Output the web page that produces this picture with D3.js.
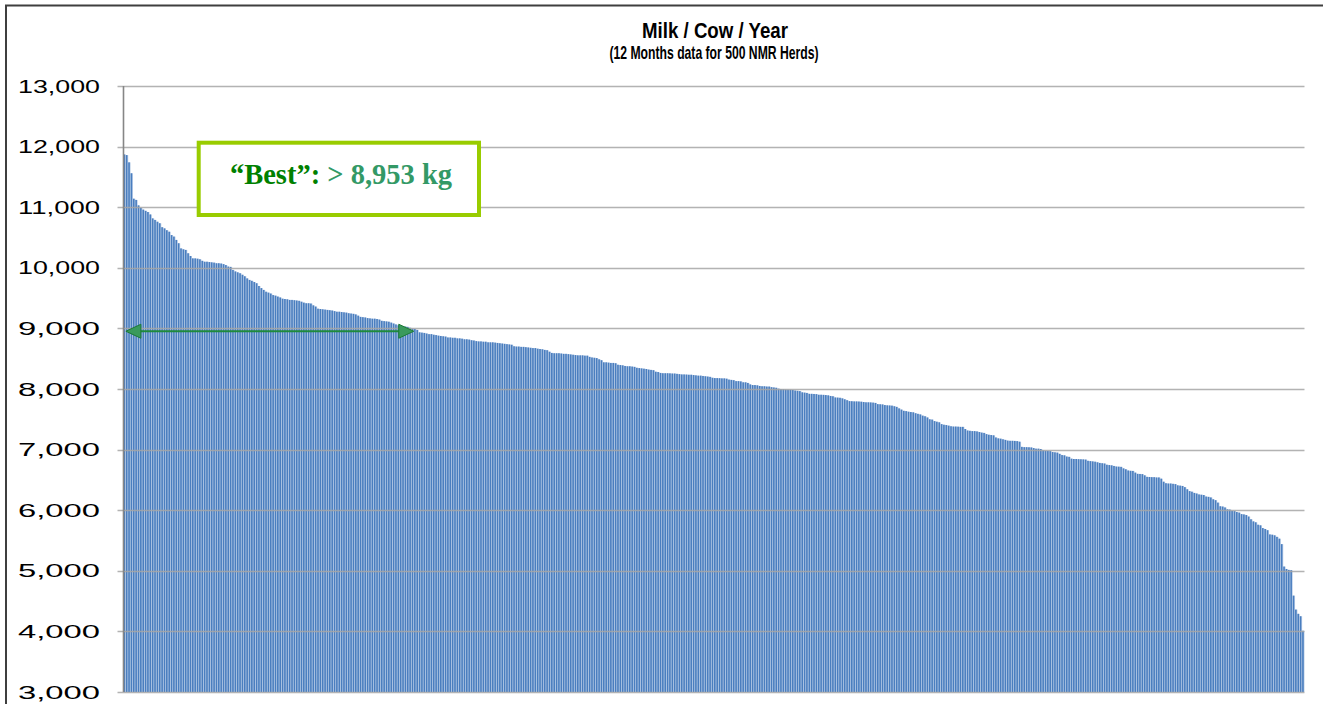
<!DOCTYPE html>
<html>
<head>
<meta charset="utf-8">
<script src="https://cdn.jsdelivr.net/npm/d3@7"></script>
<style>
  body { margin: 0; background: #fff; }
  svg { display: block; }
</style>
</head>
<body>
<div id="chart"></div>
<script>
// herds sorted by milk yield per cow (kg / year)
const milkPerCow = [
  11870,11860,11740,11560,11140,11120,11030,10990,10960,10940,
  10920,10880,10815,10790,10760,10735,10670,10650,10620,10595,
  10540,10515,10460,10405,10320,10305,10295,10240,10195,10155,
  10155,10150,10140,10115,10100,10100,10095,10090,10085,10075,
  10075,10070,10060,10045,10020,10015,9965,9940,9925,9910,
  9885,9860,9825,9800,9785,9765,9745,9700,9665,9635,
  9605,9590,9575,9550,9540,9525,9510,9490,9485,9480,
  9470,9470,9465,9460,9455,9440,9425,9415,9415,9410,
  9380,9360,9325,9320,9315,9310,9305,9300,9295,9285,
  9275,9275,9270,9265,9260,9250,9245,9240,9230,9210,
  9190,9185,9180,9170,9165,9160,9160,9155,9145,9125,
  9120,9115,9110,9095,9080,9065,9050,9040,9035,9030,
  9025,9010,8995,8990,8975,8935,8930,8925,8915,8905,
  8905,8895,8890,8880,8875,8870,8865,8850,8850,8845,
  8845,8835,8835,8830,8820,8820,8815,8805,8800,8790,
  8785,8785,8780,8780,8770,8770,8770,8765,8760,8755,
  8750,8745,8740,8735,8730,8705,8700,8700,8695,8695,
  8690,8685,8680,8675,8675,8665,8660,8655,8645,8640,
  8615,8595,8590,8590,8590,8585,8580,8580,8575,8570,
  8565,8560,8555,8555,8555,8550,8550,8530,8520,8515,
  8510,8490,8475,8440,8440,8435,8430,8430,8425,8400,
  8395,8390,8380,8375,8375,8370,8365,8350,8345,8340,
  8335,8330,8320,8315,8310,8285,8280,8265,8260,8260,
  8260,8258,8255,8255,8250,8245,8240,8240,8238,8235,
  8235,8230,8225,8220,8220,8215,8210,8205,8200,8185,
  8180,8180,8178,8175,8175,8170,8155,8150,8145,8130,
  8130,8125,8110,8110,8100,8075,8065,8065,8060,8050,
  8045,8045,8040,8040,8030,8025,8020,8005,8000,7998,
  7992,7990,7988,7985,7975,7970,7965,7945,7940,7935,
  7920,7920,7918,7915,7905,7905,7903,7900,7895,7885,
  7880,7860,7858,7855,7845,7830,7815,7800,7798,7795,
  7795,7793,7790,7785,7780,7780,7778,7775,7770,7750,
  7748,7745,7735,7730,7728,7725,7715,7705,7680,7660,
  7640,7635,7625,7620,7615,7600,7590,7580,7560,7550,
  7530,7500,7495,7470,7460,7450,7420,7410,7405,7395,
  7385,7380,7380,7378,7375,7375,7340,7315,7310,7305,
  7305,7300,7290,7280,7275,7255,7245,7240,7235,7200,
  7185,7180,7170,7160,7148,7145,7145,7143,7140,7130,
  7045,7040,7040,7038,7035,7025,7015,7015,7010,6990,
  6980,6978,6975,6960,6955,6950,6930,6910,6905,6885,
  6880,6850,6845,6845,6842,6840,6838,6835,6815,6810,
  6805,6800,6790,6780,6775,6770,6750,6745,6740,6730,
  6720,6718,6715,6690,6675,6655,6650,6648,6620,6600,
  6598,6595,6575,6550,6548,6545,6545,6540,6540,6520,
  6470,6445,6440,6440,6435,6430,6410,6405,6400,6380,
  6345,6315,6305,6285,6275,6260,6255,6250,6225,6220,
  6210,6180,6165,6125,6065,6060,6045,6015,6010,5990,
  5985,5970,5960,5935,5930,5920,5895,5850,5815,5800,
  5760,5750,5705,5690,5670,5600,5595,5585,5560,5530,
  5440,5070,5030,5015,5010,4590,4360,4290,4250,4010
];

const yTicks = [3000, 4000, 5000, 6000, 7000, 8000, 9000, 10000, 11000, 12000, 13000];
const bestThreshold = 8953;
const titleLines = ["Milk / Cow / Year", "(12 Months data for 500 NMR Herds)"];

let width = 1323,
  height = 704,
  margins = {left: 123.5, right: 18.5, top: 86, bottom: 12};

let svg = d3.select("#chart").append("svg")
  .attr("width", width)
  .attr("height", height);

let x = d3.scaleBand()
  .domain(d3.range(milkPerCow.length))
  .range([margins.left, width - margins.right])
  .padding(0);

let y = d3.scaleLinear()
  .domain([d3.min(yTicks), d3.max(yTicks)])
  .range([height - margins.bottom, margins.top]);

// outer frame (left + top edges visible)
svg.append("path")
  .attr("d", "M6,704V5.5H1323")
  .attr("fill", "none")
  .attr("stroke", "#3f3f3f")
  .attr("stroke-width", 2);

// titles
svg.append("text")
  .attr("x", 715).attr("y", 38)
  .attr("text-anchor", "middle")
  .attr("font-family", "Liberation Sans, Arial, sans-serif")
  .attr("font-weight", "bold")
  .attr("font-size", 22)
  .attr("textLength", 146)
  .attr("lengthAdjust", "spacingAndGlyphs")
  .text(titleLines[0]);

svg.append("text")
  .attr("x", 714).attr("y", 59)
  .attr("text-anchor", "middle")
  .attr("font-family", "Liberation Sans, Arial, sans-serif")
  .attr("font-weight", "bold")
  .attr("font-size", 18.5)
  .attr("textLength", 209)
  .attr("lengthAdjust", "spacingAndGlyphs")
  .text(titleLines[1]);

// bars: light edge + dark body
let bars = svg.append("g").attr("class", "bars");

bars.selectAll("rect.edge")
  .data(milkPerCow)
  .enter().append("rect")
  .attr("class", "edge")
  .attr("x", function(d, i) { return x(i); })
  .attr("width", x.bandwidth())
  .attr("y", function(d) { return y(d); })
  .attr("height", function(d) { return y(d3.min(yTicks)) - y(d); })
  .attr("fill", "#bccfe8");

bars.selectAll("rect.body")
  .data(milkPerCow)
  .enter().append("rect")
  .attr("class", "body")
  .attr("x", function(d, i) { return x(i); })
  .attr("width", x.bandwidth() * 0.68)
  .attr("y", function(d) { return y(d); })
  .attr("height", function(d) { return y(d3.min(yTicks)) - y(d); })
  .attr("fill", "#4a7ebf");

// gridlines drawn over the bars
svg.append("g")
  .selectAll("line")
  .data(yTicks)
  .enter().append("line")
  .attr("x1", margins.left - 6)
  .attr("x2", width - margins.right)
  .attr("y1", function(d) { return Math.round(y(d)) + 0.5; })
  .attr("y2", function(d) { return Math.round(y(d)) + 0.5; })
  .attr("stroke", "#a6a6a6")
  .attr("stroke-opacity", 0.85)
  .attr("stroke-width", 1.3);

// vertical axis line
svg.append("line")
  .attr("x1", margins.left).attr("x2", margins.left)
  .attr("y1", margins.top).attr("y2", y(d3.min(yTicks)))
  .attr("stroke", "#868686")
  .attr("stroke-width", 1.6);

// tick labels
svg.append("g")
  .selectAll("text")
  .data(yTicks)
  .enter().append("text")
  .attr("x", 100)
  .attr("y", function(d) { return y(d); })
  .attr("dy", "0.36em")
  .attr("text-anchor", "end")
  .attr("font-family", "Liberation Sans, Arial, sans-serif")
  .attr("font-size", 18.5)
  .attr("textLength", 82)
  .attr("lengthAdjust", "spacingAndGlyphs")
  .text(d3.format(","));

// "Best" double arrow
let nBest = milkPerCow.filter(function(d) { return d > bestThreshold; }).length;
let ay = y(bestThreshold),
  ax0 = x(1),
  ax1 = x(nBest) - 5,
  head = 15,
  half = 7;

svg.append("line")
  .attr("x1", ax0 + head - 2).attr("x2", ax1 - head + 2)
  .attr("y1", ay).attr("y2", ay)
  .attr("stroke", "#1f8a3c")
  .attr("stroke-width", 2);

svg.append("path")
  .attr("d", "M" + ax0 + "," + ay + "l" + head + "," + (-half) + "v" + (2 * half) + "z" +
    "M" + ax1 + "," + ay + "l" + (-head) + "," + (-half) + "v" + (2 * half) + "z")
  .attr("fill", "#3a9a5c")
  .attr("stroke", "#1b7a34")
  .attr("stroke-width", 1);

// annotation box
svg.append("rect")
  .attr("x", 198.7).attr("y", 142.7)
  .attr("width", 280.3).attr("height", 72.3)
  .attr("fill", "#fff")
  .attr("stroke", "#99cc00")
  .attr("stroke-width", 4);

let label = svg.append("text")
  .attr("x", 341).attr("y", 184)
  .attr("text-anchor", "middle")
  .attr("font-family", "Liberation Serif, Times New Roman, serif")
  .attr("font-weight", "bold")
  .attr("font-size", 28.5);

label.append("tspan")
  .attr("fill", "#008000")
  .text("\u201CBest\u201D:");

label.append("tspan")
  .attr("fill", "#339966")
  .text(" > " + d3.format(",")(bestThreshold) + " kg");
</script>
</body>
</html>
